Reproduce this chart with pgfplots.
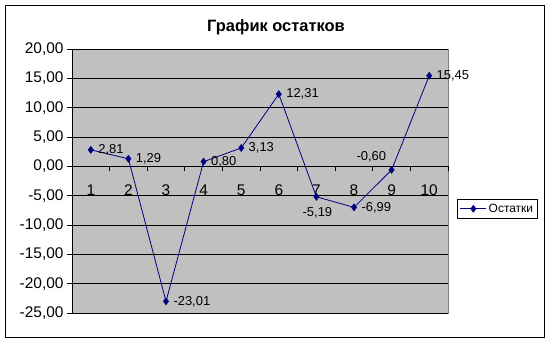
\documentclass[border=0pt]{standalone}
\usepackage{pgfplots}
\pgfplotsset{compat=1.18}
\usepackage{fontspec}
\setmainfont{Liberation Sans}
\definecolor{navy}{RGB}{0,0,128}
\definecolor{plotgray}{RGB}{192,192,192}
\definecolor{bordergray}{RGB}{128,128,128}
\begin{document}
\begin{tikzpicture}[x=1bp,y=1bp]
\useasboundingbox (0,0) rectangle (551,-343);
\draw[line width=1bp] (5,-5) rectangle (544,-337);
\node[font=\bfseries\fontsize{16.5}{18}\selectfont] at (276,-27) {График остатков};
\begin{axis}[
  at={(72bp,-313bp)}, anchor=south west,
  scale only axis, width=376bp, height=264bp,
  xmin=0.5, xmax=10.5, ymin=-25, ymax=20,
  axis x line*=middle, axis y line*=left,
  axis line style={black, line width=0.8bp},
  axis background/.style={fill=plotgray, draw=bordergray, line width=0.8bp},
  tick align=outside,
  major tick length=5bp,
  tick style={black, line width=0.8bp},
  xtick={0.5,1.5,...,10.5},
  xticklabels={},
  extra x ticks={1,2,3,4,5,6,7,8,9,10},
  extra x tick labels={1,2,3,4,5,6,7,8,9,10},
  extra x tick style={major tick length=0pt, tick label style={yshift=-15bp}},
  ytick={-25,-20,...,20},
  ymajorgrids,
  major grid style={black, line width=0.8bp},
  tick label style={font=\fontsize{15.5}{17}\selectfont},
  y tick label style={/pgf/number format/.cd, fixed, fixed zerofill, precision=2, use comma, assume math mode=true},
  x tick label style={/pgf/number format/assume math mode=true},
  legend style={at={(1.024,0.432)}, anchor=north west, draw=black, fill=white,
    font=\fontsize{12}{14}\selectfont, inner sep=2.5bp, line width=0.8bp},
  legend image code/.code={\draw[mark repeat=2,mark phase=2,#1] plot coordinates {(0bp,0bp)(13bp,0bp)(26bp,0bp)};},
  clip=false,
]
\addplot[navy, line width=0.8bp, mark=diamond*, mark size=3.3bp, mark options={fill=navy, solid}]
  coordinates {(1,2.81) (2,1.29) (3,-23.01) (4,0.80) (5,3.13) (6,12.31) (7,-5.19) (8,-6.99) (9,-0.60) (10,15.45)};
\addlegendentry{Остатки}
\addplot[draw=none, mark=none, forget plot, nodes near coords, point meta=explicit symbolic,
  nodes near coords style={anchor=west, xshift=4bp, font=\fontsize{13}{15}\selectfont, text=black}]
  table[meta=lab] {
x y lab
1 2.81 2,81
2 1.29 1,29
3 -23.01 -23,01
4 0.80 0,80
5 3.13 3,13
6 12.31 12,31
8 -6.99 -6,99
10 15.45 15,45
};
\addplot[draw=none, mark=none, forget plot, nodes near coords, point meta=explicit symbolic,
  nodes near coords style={anchor=north, xshift=1bp, yshift=-7bp, font=\fontsize{13}{15}\selectfont, text=black}]
  table[meta=lab] {
x y lab
7 -5.19 -5,19
};
\addplot[draw=none, mark=none, forget plot, nodes near coords, point meta=explicit symbolic,
  nodes near coords style={anchor=south east, xshift=-2bp, yshift=4bp, font=\fontsize{13}{15}\selectfont, text=black}]
  table[meta=lab] {
x y lab
9 -0.60 -0,60
};
\end{axis}
\end{tikzpicture}
\end{document}
